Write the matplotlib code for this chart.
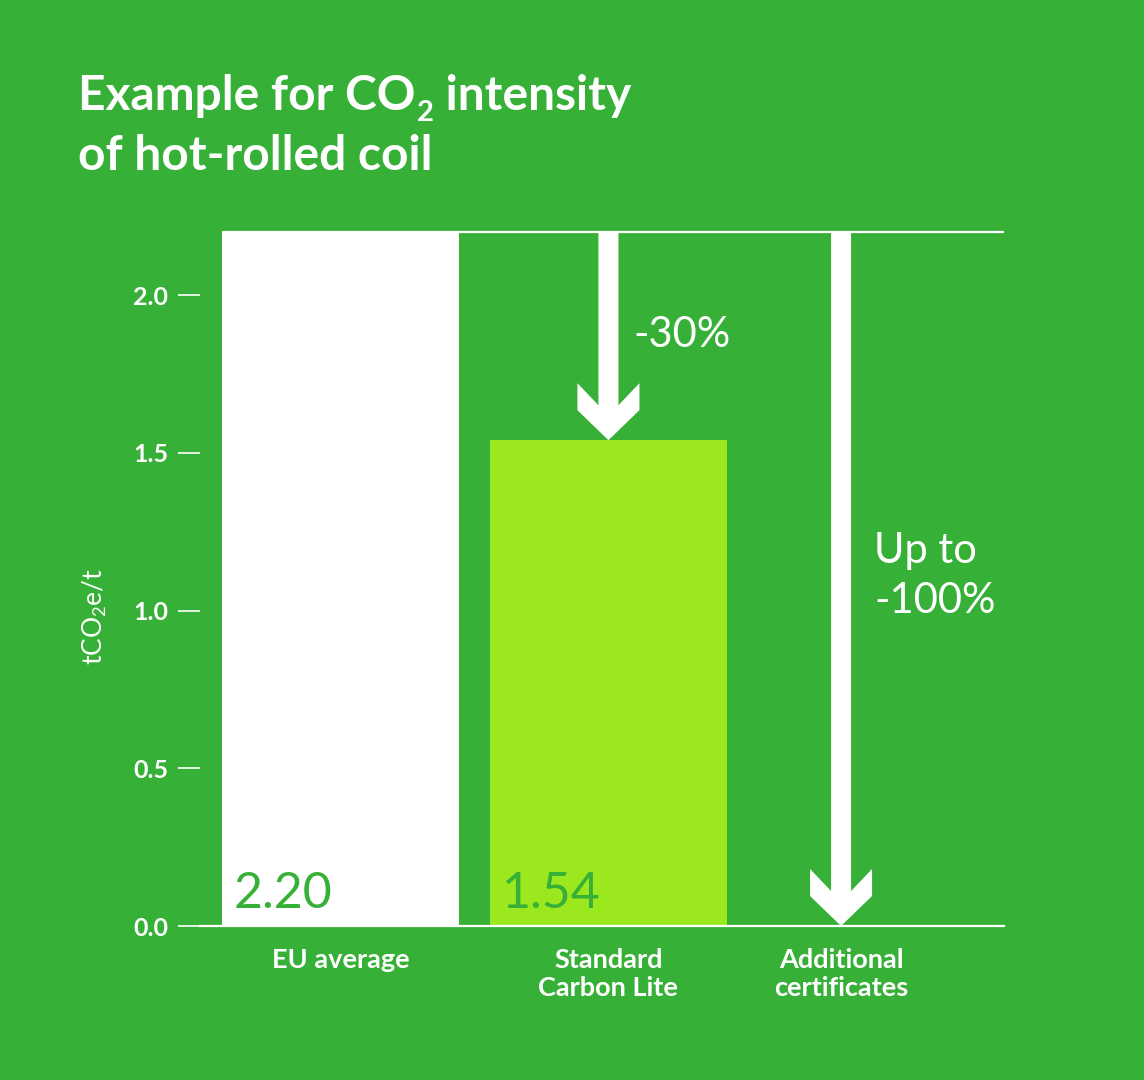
import numpy as np
import matplotlib
matplotlib.use('Agg')
import matplotlib.pyplot as plt
from matplotlib.patches import Polygon
import matplotlib.transforms as mtransforms

plt.rcParams['font.family'] = ['Lato', 'DejaVu Sans']
plt.rcParams['mathtext.default'] = 'regular'

# data
categories = ['EU average', 'Standard\nCarbon Lite', 'Additional\ncertificates']
values = [2.20, 1.54]
value_labels = ['2.20', '1.54']
ref_value = 2.20
targets = [1.54, 0.0]          # arrow tips
arrow_texts = ['-30%', 'Up to\n-100%']
yticks = [0.0, 0.5, 1.0, 1.5, 2.0]

bg = '#36b036'
lime = '#9be81e'
bar_colors = ['white', lime]

xpos = [0, 1, 1.868]   # category positions
bar_w = 0.885

W, H = 1144, 1080
fig = plt.figure(figsize=(W / 100, H / 100), dpi=100, facecolor=bg)
# axes box in pixels: x 200..1004, y 232..926 (top..bottom)
ax = fig.add_axes([200 / W, 154 / H, 804 / W, 694 / H])
ax.set_facecolor(bg)
ax.set_xlim(-0.524, 2.476)
ax.set_ylim(0, 2.2)

px_x = 804 / (2.476 + 0.524)   # pixels per x unit
px_y = 694 / 2.2               # pixels per y unit

# bars
for x, v, c, lab in zip(xpos[:2], values, bar_colors, value_labels):
    ax.bar(x, v, width=bar_w, color=c, zorder=2)
    ax.text(x - bar_w / 2 + 12 / px_x, 18 / px_y, lab, ha='left', va='baseline',
            fontsize=36, color=bg, zorder=3)

# top reference line at EU average
ax.hlines(ref_value, xpos[0] - bar_w / 2, 2.476, color='white', lw=1.6, zorder=1, clip_on=False)


def arrow_poly(x, top, tip):
    sw = 10 / px_x
    hw = 31 / px_x
    corner = tip + 30 / px_y
    outer = tip + 57 / px_y
    inner = tip + 35 / px_y
    return [(x - sw, top), (x - sw, inner), (x - hw, outer), (x - hw, corner),
            (x, tip), (x + hw, corner), (x + hw, outer), (x + sw, inner), (x + sw, top)]


for x, t in zip(xpos[1:], targets):
    ax.add_patch(Polygon(arrow_poly(x, ref_value, t), closed=True, facecolor='white',
                         edgecolor='none', zorder=4, clip_on=False))

# arrow annotations
ax.text(xpos[1] + 25 / px_x, 1.875, arrow_texts[0], ha='left', va='center',
        fontsize=30, color='white')
ax.text(xpos[2] + 33 / px_x, 1.11, arrow_texts[1], ha='left', va='center',
        fontsize=30, color='white', linespacing=1.4)

# axes styling
for s in ['top', 'right', 'left']:
    ax.spines[s].set_visible(False)
ax.spines['bottom'].set_color('white')
ax.spines['bottom'].set_linewidth(1.6)
ax.spines['bottom'].set_zorder(5)

ax.set_yticks(yticks, [f'{t:.1f}' for t in yticks])
ax.tick_params(axis='y', direction='out', length=16, width=1.2, color='white',
               labelcolor='white', labelsize=18, pad=7)
for lbl in ax.get_yticklabels():
    lbl.set_fontweight('bold')

ax.set_xticks(xpos, categories)
ax.tick_params(axis='x', length=0, labelcolor='white', labelsize=19.5, pad=16)
for lbl in ax.get_xticklabels():
    lbl.set_fontweight('bold')
    lbl.set_linespacing(1.2)

fig.text(95 / W, 1 - 617 / H, 'tCO$_2$e/t', rotation=90, ha='center', va='center',
         fontsize=19, color='white')

# title, with a low-set subscript 2 drawn as separate text
renderer = fig.canvas.get_renderer()
t1 = fig.text(78 / W, 1 - 110 / H, 'Example for CO', ha='left', va='baseline',
              fontsize=34.5, fontweight='bold', color='white')
x1 = t1.get_window_extent(renderer).x1
t2 = fig.text(x1 / W + 1 / W, 1 - 121 / H, '2', ha='left', va='baseline',
              fontsize=21, fontweight='bold', color='white')
x2 = t2.get_window_extent(renderer).x1
fig.text(x2 / W, 1 - 110 / H, ' intensity', ha='left', va='baseline',
         fontsize=34.5, fontweight='bold', color='white')
fig.text(78 / W, 1 - 170 / H, 'of hot-rolled coil', ha='left', va='baseline',
         fontsize=34.5, fontweight='bold', color='white')

fig.savefig('out.png', dpi=100, facecolor=bg)
